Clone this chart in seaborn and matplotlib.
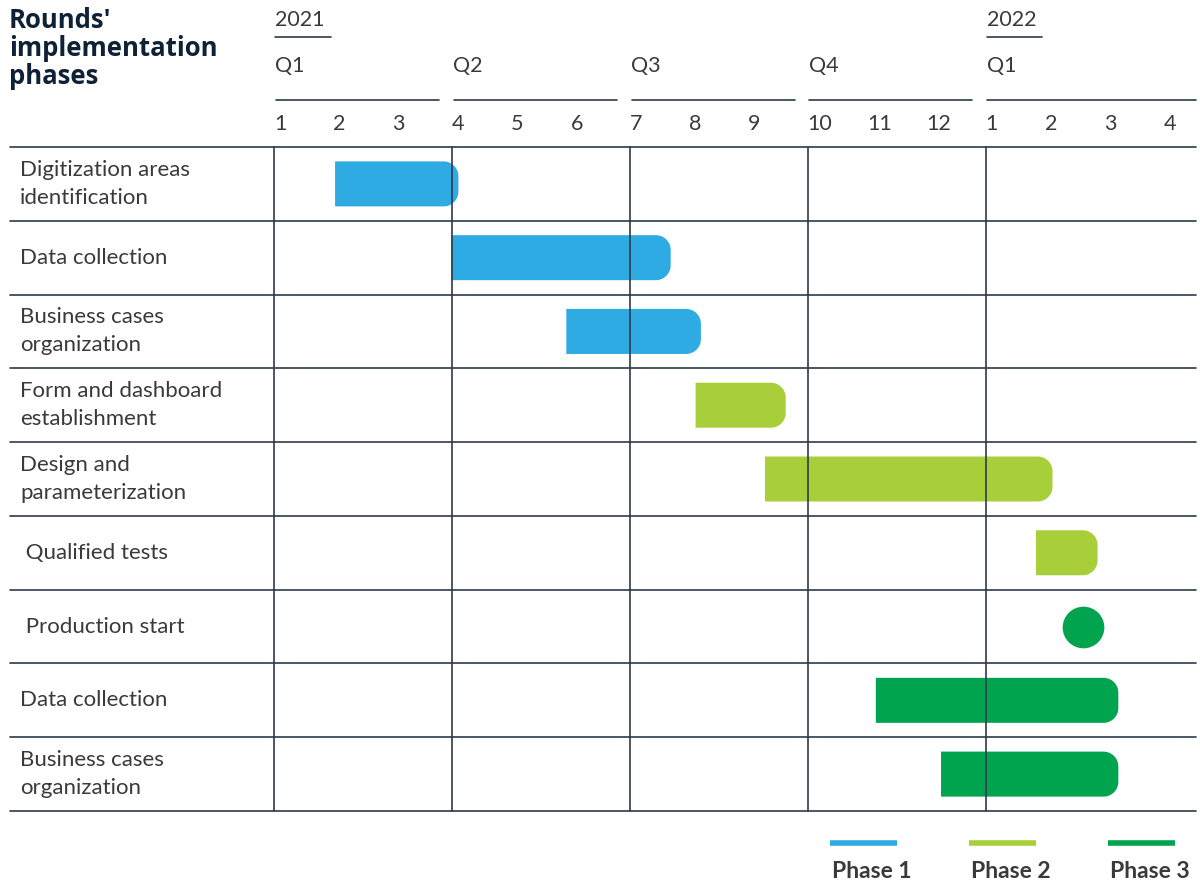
import numpy as np
import pandas as pd
import matplotlib.pyplot as plt
import seaborn as sns
from matplotlib.lines import Line2D
from matplotlib.patches import Polygon

# rows of the chart, top to bottom
tasks = [
    "Digitization areas\nidentification",
    "Data collection",
    "Business cases\norganization",
    "Form and dashboard\nestablishment",
    "Design and\nparameterization",
    " Qualified tests",
    " Production start",
    "Data collection",
    "Business cases\norganization",
]
phases = [1, 1, 1, 2, 2, 2, 3, 3, 3]
# months counted from the start of January 2021 (None = milestone row)
starts = [1.03, 2.99, 4.93, 7.11, 8.28, 12.85, None, 10.15, 11.25]
ends = [3.11, 6.69, 7.20, 8.63, 13.13, 13.89, None, 14.24, 14.24]
milestone_row = 6
milestone_at = 13.65

month_labels = ["1", "2", "3", "4", "5", "6", "7", "8", "9", "10", "11", "12",
                "1", "2", "3", "4"]
quarter_labels = ["Q1", "Q2", "Q3", "Q4", "Q1"]
quarter_starts = [0, 3, 6, 9, 12]
year_labels = ["2021", "2022"]
year_starts = [0, 12]
phase_names = ["Phase 1", "Phase 2", "Phase 3"]
phase_colors = ["#2eabe2", "#a8cf3a", "#00a34e"]

title_lines = ["Rounds'", "implementation", "phases"]

W, H = 1200, 884
NAVY = "#2c3b4c"
TEXT = "#3a3a3a"
XMAX = 15.55


def rounded_right(x0, y0, w, h, rx, ry):
    """Outline of a bar with square left end and rounded right corners."""
    t = np.linspace(0, np.pi / 2, 20)
    x1 = x0 + w
    top = y0 + h
    pts = [(x0, y0), (x1 - rx, y0)]
    pts += [(x1 - rx + rx * np.sin(a), y0 + ry - ry * np.cos(a)) for a in t]
    pts += [(x1 - rx + rx * np.cos(a), top - ry + ry * np.sin(a)) for a in t]
    pts += [(x1 - rx, top), (x0, top)]
    return pts


def main():
    sns.set_theme(style="white")
    plt.rcParams["font.family"] = ["Lato", "DejaVu Sans"]

    fig = plt.figure(figsize=(W / 100, H / 100), dpi=100)
    ax = fig.add_axes([274 / W, 1 - 811 / H, 922 / W, 664 / H])

    rows = [i for i, s in enumerate(starts) if s is not None]
    bar_df = pd.DataFrame({
        "row": [r + 0.5 for r in rows],
        "start": [starts[r] for r in rows],
        "dur": [ends[r] - starts[r] for r in rows],
        "phase": [phases[r] for r in rows],
    })

    sns.barplot(data=bar_df, x="dur", y="row", orient="y", native_scale=True,
                left=bar_df["start"].to_numpy(), width=0.61, errorbar=None,
                color=phase_colors[0], linewidth=0, ax=ax, zorder=1)

    # recolour by phase and swap each bar for one with a rounded right end
    for p, ph in zip(list(ax.patches), bar_df["phase"]):
        x0, y0, w, h = p.get_x(), p.get_y(), p.get_width(), p.get_height()
        p.set_visible(False)
        ax.add_patch(Polygon(rounded_right(x0, y0, w, h, 0.25, 0.2),
                             closed=True, facecolor=phase_colors[ph - 1],
                             linewidth=0, zorder=1))

    sns.scatterplot(x=[milestone_at], y=[milestone_row + 0.5], s=900,
                    color=phase_colors[phases[milestone_row] - 1],
                    linewidth=0, ax=ax, zorder=2)

    ax.set_xlim(0, XMAX)
    ax.set_ylim(len(tasks), 0)
    for s in ax.spines.values():
        s.set_visible(False)
    ax.set_xlabel("")
    ax.set_ylabel("")
    ax.set_yticks([])
    ax.xaxis.tick_top()
    ax.set_xticks(range(len(month_labels)))
    ax.set_xticklabels(month_labels, ha="left", fontsize=15.5, color=TEXT)
    ax.tick_params(axis="x", length=0, pad=9)
    ax.patch.set_alpha(0)

    # grid
    for y in range(len(tasks) + 1):
        ax.axhline(y, xmin=-264 / 922, xmax=1, color=NAVY, lw=1.2,
                   clip_on=False, zorder=3)
    for q in quarter_starts:
        ax.axvline(q, color=NAVY, lw=1.2, clip_on=False, zorder=3)

    # row labels
    ytr = ax.get_yaxis_transform()
    for i, t in enumerate(tasks):
        ax.text(-254 / 922, i + 0.5, t, transform=ytr, ha="left", va="center",
                fontsize=16, color=TEXT, linespacing=1.5)

    # quarter and year header
    xtr = ax.get_xaxis_transform()
    for k, (lab, q) in enumerate(zip(quarter_labels, quarter_starts)):
        ax.text(q + 0.02, 1.122, lab, transform=xtr, ha="left", va="center",
                fontsize=15.5, color=TEXT)
        q_end = XMAX if k == len(quarter_starts) - 1 else q + 2.78
        ax.plot([q + 0.03, q_end], [1.0708, 1.0708], transform=xtr,
                color=NAVY, lw=1.2, clip_on=False)
    for lab, q in zip(year_labels, year_starts):
        ax.text(q + 0.02, 1.191, lab, transform=xtr, ha="left", va="center",
                fontsize=15.5, color=TEXT)
        ax.plot([q + 0.02, q + 0.96], [1.1657, 1.1657], transform=xtr,
                color=NAVY, lw=1.2, clip_on=False)

    for k, line in enumerate(title_lines):
        fig.text(9 / W, 1 - (20 + 28.5 * k) / H, line, ha="left", va="center",
                 fontsize=18.5, fontweight="bold", color="#0f2137",
                 family=["Open Sans", "DejaVu Sans"])

    # legend
    for k, (name, col) in enumerate(zip(phase_names, phase_colors)):
        x0 = (830 + 139 * k) / W
        fig.add_artist(Line2D([x0, x0 + 67 / W], [1 - 843 / H] * 2, color=col,
                              lw=4, solid_capstyle="butt"))
        fig.text(x0 + 2 / W, 1 - 872 / H, name, ha="left", va="center",
                 fontsize=16.5, fontweight="bold", color=TEXT)

    fig.savefig("out.png", dpi=100, facecolor="white")
    plt.close(fig)


if __name__ == "__main__":
    main()
